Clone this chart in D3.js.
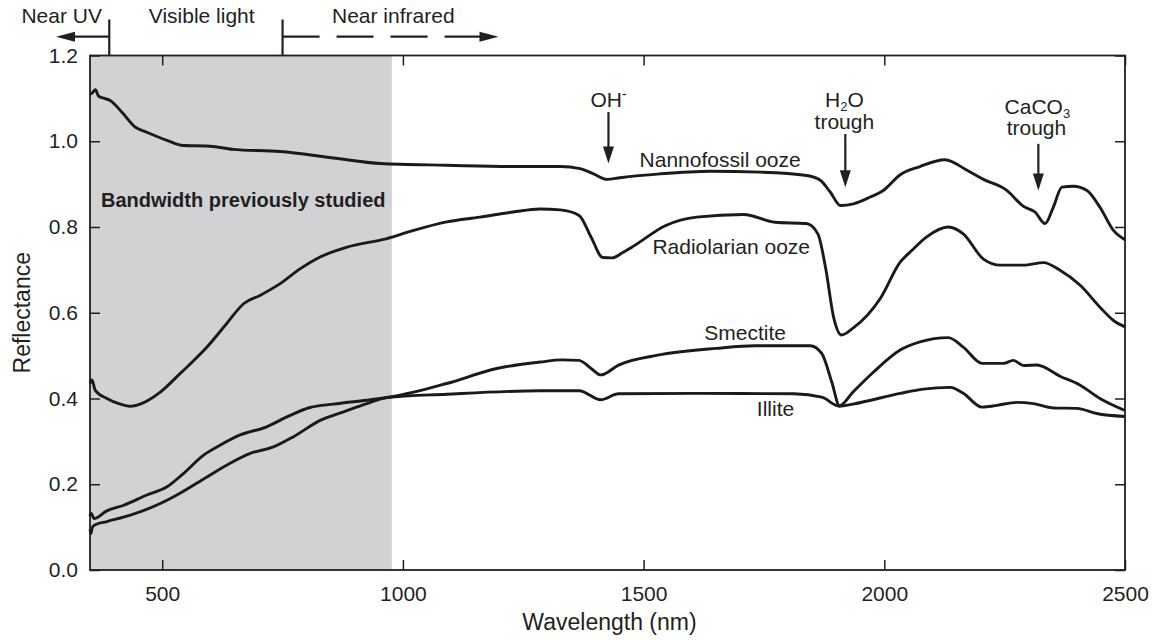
<!DOCTYPE html>
<html>
<head>
<meta charset="utf-8">
<script src="https://cdn.jsdelivr.net/npm/d3@7"></script>
<style>
  html, body { margin: 0; padding: 0; background: #fff; }
  svg { display: block; }
  text { font-family: "Liberation Sans", Arial, Helvetica, sans-serif; fill: #231f20; }
</style>
</head>
<body>
<svg id="chart" width="1152" height="640"></svg>
<script>
// Reflectance spectra of deep-sea sediments (wavelength in nm, reflectance 0-1.2)
const wlNanno = [350, 355, 361, 368, 380, 392, 416, 444, 468, 510, 544, 593, 647, 745, 855, 954, 1091, 1229, 1327, 1368, 1396, 1424, 1451, 1534, 1638, 1742, 1839, 1867, 1888, 1909, 1936, 1971, 1998, 2033, 2074, 2126, 2171, 2206, 2255, 2289, 2313, 2334, 2351, 2369, 2393, 2421, 2448, 2476, 2500];
const refNanno = [1.11, 1.113, 1.12, 1.105, 1.10, 1.095, 1.068, 1.033, 1.021, 1.002, 0.99, 0.989, 0.981, 0.976, 0.961, 0.948, 0.944, 0.941, 0.941, 0.936, 0.924, 0.911, 0.915, 0.924, 0.930, 0.928, 0.920, 0.909, 0.881, 0.850, 0.854, 0.870, 0.885, 0.922, 0.941, 0.957, 0.933, 0.911, 0.885, 0.848, 0.835, 0.808, 0.846, 0.893, 0.895, 0.885, 0.846, 0.792, 0.770];

const wlRadio = [350, 354, 361, 385, 410, 434, 454, 496, 537, 593, 634, 669, 704, 745, 787, 828, 884, 967, 1022, 1091, 1160, 1229, 1285, 1327, 1366, 1391, 1415, 1435, 1456, 1480, 1545, 1610, 1708, 1773, 1838, 1862, 1878, 1895, 1911, 1935, 1992, 2033, 2057, 2088, 2133, 2164, 2206, 2241, 2289, 2331, 2365, 2407, 2448, 2476, 2500];
const refRadio = [0.435, 0.443, 0.419, 0.40, 0.388, 0.382, 0.387, 0.415, 0.458, 0.52, 0.575, 0.621, 0.641, 0.668, 0.703, 0.730, 0.753, 0.773, 0.792, 0.812, 0.823, 0.835, 0.842, 0.840, 0.827, 0.776, 0.729, 0.728, 0.740, 0.756, 0.803, 0.823, 0.829, 0.811, 0.808, 0.784, 0.705, 0.588, 0.548, 0.564, 0.634, 0.718, 0.745, 0.777, 0.800, 0.784, 0.725, 0.711, 0.711, 0.717, 0.699, 0.664, 0.613, 0.582, 0.567];

const wlSmec = [350, 352, 354, 358, 385, 420, 468, 510, 544, 586, 620, 662, 717, 759, 807, 856, 925, 977, 1091, 1195, 1285, 1330, 1366, 1391, 1411, 1448, 1529, 1651, 1732, 1846, 1870, 1891, 1907, 1935, 1976, 2033, 2074, 2133, 2164, 2203, 2248, 2268, 2289, 2317, 2365, 2407, 2448, 2500];
const refSmec = [0.125, 0.132, 0.13, 0.12, 0.138, 0.151, 0.175, 0.194, 0.225, 0.268, 0.291, 0.315, 0.334, 0.357, 0.379, 0.387, 0.396, 0.404, 0.435, 0.47, 0.485, 0.49, 0.489, 0.47, 0.455, 0.478, 0.501, 0.517, 0.523, 0.523, 0.505, 0.438, 0.383, 0.415, 0.46, 0.513, 0.532, 0.542, 0.520, 0.482, 0.482, 0.489, 0.477, 0.478, 0.452, 0.431, 0.40, 0.372];

const wlIllite = [350, 352, 355, 360, 385, 434, 496, 537, 593, 641, 683, 731, 773, 828, 877, 925, 967, 1091, 1285, 1366, 1411, 1448, 1610, 1813, 1870, 1907, 1935, 2033, 2081, 2137, 2164, 2203, 2234, 2275, 2310, 2351, 2400, 2441, 2500];
const refIllite = [0.095, 0.085, 0.10, 0.105, 0.113, 0.128, 0.155, 0.179, 0.217, 0.249, 0.272, 0.287, 0.311, 0.349, 0.369, 0.388, 0.402, 0.41, 0.418, 0.418, 0.397, 0.411, 0.412, 0.411, 0.403, 0.382, 0.387, 0.412, 0.422, 0.426, 0.412, 0.380, 0.384, 0.391, 0.388, 0.378, 0.377, 0.365, 0.358];

const xTicks = [500, 1000, 1500, 2000, 2500];
const yTicks = [0.0, 0.2, 0.4, 0.6, 0.8, 1.0, 1.2];
const studiedBand = [350, 977];
const regionBounds = [390, 750];   // near UV | visible | near infrared

const svg = d3.select("#chart");
const m = { left: 90, right: 1125, top: 55.5, bottom: 570 };
const x = d3.scaleLinear().domain([350, 2500]).range([m.left, m.right]);
const y = d3.scaleLinear().domain([0, 1.2]).range([m.bottom, m.top]);
const ink = "#231f20";

// shaded band
svg.append("rect")
  .attr("x", x(studiedBand[0])).attr("y", y(1.2))
  .attr("width", x(studiedBand[1]) - x(studiedBand[0]))
  .attr("height", y(0) - y(1.2))
  .attr("fill", "#d1d2d4");

svg.append("text")
  .attr("x", x(studiedBand[0]) + 11).attr("y", 206.5)
  .attr("font-size", 20).attr("font-weight", "bold")
  .text("Bandwidth previously studied");

// axes: ticks on all four sides, pointing inward
const tickLen = 10;
const axB = svg.append("g").attr("transform", `translate(0,${m.bottom})`)
  .call(d3.axisBottom(x).tickValues(xTicks).tickSizeInner(-tickLen).tickSizeOuter(0).tickPadding(16).tickFormat(d3.format("d")));
const axT = svg.append("g").attr("transform", `translate(0,${m.top})`)
  .call(d3.axisTop(x).tickValues(xTicks).tickSizeInner(-tickLen).tickSizeOuter(0).tickFormat(""));
const axL = svg.append("g").attr("transform", `translate(${m.left},0)`)
  .call(d3.axisLeft(y).tickValues(yTicks).tickSizeInner(-tickLen).tickSizeOuter(0).tickPadding(12).tickFormat(d3.format(".1f")));
const axR = svg.append("g").attr("transform", `translate(${m.right},0)`)
  .call(d3.axisRight(y).tickValues(yTicks).tickSizeInner(-tickLen).tickSizeOuter(0).tickFormat(""));
[axB, axT, axL, axR].forEach(g => {
  g.select(".domain").remove();
  g.selectAll("line").attr("stroke", ink).attr("stroke-width", 1.5);
  g.selectAll("text").attr("font-size", 21).attr("fill", ink)
    .style("font-family", '"Liberation Sans", Arial, Helvetica, sans-serif');
});

// frame
svg.append("rect")
  .attr("x", m.left).attr("y", m.top)
  .attr("width", m.right - m.left).attr("height", m.bottom - m.top)
  .attr("fill", "none").attr("stroke", ink).attr("stroke-width", 1.8);

// axis titles
svg.append("text")
  .attr("x", (m.left + m.right) / 2 + 2).attr("y", 630)
  .attr("text-anchor", "middle").attr("font-size", 23)
  .text("Wavelength (nm)");
svg.append("text")
  .attr("transform", `translate(30,${(m.top + m.bottom) / 2}) rotate(-90)`)
  .attr("text-anchor", "middle").attr("font-size", 23)
  .text("Reflectance");

// spectra
const line = d3.line().x(d => x(d[0])).y(d => y(d[1])).curve(d3.curveMonotoneX);
const series = [
  [wlNanno, refNanno],
  [wlRadio, refRadio],
  [wlSmec, refSmec],
  [wlIllite, refIllite]
];
series.forEach(([wl, r]) => {
  svg.append("path")
    .datum(wl.map((w, i) => [w, r[i]]))
    .attr("d", line)
    .attr("fill", "none")
    .attr("stroke", "#1a1a1a")
    .attr("stroke-width", 2.9)
    .attr("stroke-linejoin", "round");
});

// curve labels
const lbl = (wl, v, t) => svg.append("text")
  .attr("x", x(wl)).attr("y", y(v)).attr("text-anchor", "middle")
  .attr("font-size", 21).text(t);
lbl(1659, 0.941, "Nannofossil ooze");
lbl(1682, 0.736, "Radiolarian ooze");
lbl(1711, 0.536, "Smectite");
lbl(1774, 0.360, "Illite");

// arrow helper
function arrowHead(tipX, tipY, dx, dy, len = 17, half = 5.5) {
  const px = -dy, py = dx;
  const bx = tipX - dx * len, by = tipY - dy * len;
  svg.append("path")
    .attr("d", `M${tipX},${tipY}L${bx + px * half},${by + py * half}L${bx - px * half},${by - py * half}Z`)
    .attr("fill", ink);
}
function downArrow(wl, v0, v1) {
  const xx = x(wl);
  svg.append("line").attr("x1", xx).attr("x2", xx)
    .attr("y1", y(v0)).attr("y2", y(v1) - 10)
    .attr("stroke", ink).attr("stroke-width", 2.2);
  arrowHead(xx, y(v1), 0, 1);
}

// absorption feature annotations
const oh = svg.append("text").attr("x", x(1427)).attr("y", y(1.079))
  .attr("text-anchor", "middle").attr("font-size", 21);
oh.append("tspan").text("OH");
oh.append("tspan").attr("font-size", 14).attr("dy", -8).text("-");
downArrow(1427, 1.068, 0.948);

const h2o = svg.append("text").attr("x", x(1917)).attr("y", y(1.079))
  .attr("text-anchor", "middle").attr("font-size", 21);
h2o.append("tspan").text("H");
h2o.append("tspan").attr("font-size", 13).attr("dy", 4).text("2");
h2o.append("tspan").attr("dy", -4).text("O");
lbl(1917, 1.029, "trough");
downArrow(1919, 1.017, 0.893);

const caco = svg.append("text").attr("x", x(2318)).attr("y", y(1.064))
  .attr("text-anchor", "middle").attr("font-size", 21);
caco.append("tspan").text("CaCO");
caco.append("tspan").attr("font-size", 13).attr("dy", 4).text("3");
lbl(2316, 1.0135, "trough");
downArrow(2320, 0.994, 0.885);

// spectral region header
const yHead = 36.7;
regionBounds.forEach(w => {
  svg.append("line").attr("x1", x(w)).attr("x2", x(w))
    .attr("y1", 19.5).attr("y2", m.top)
    .attr("stroke", ink).attr("stroke-width", 2.2);
});
svg.append("line").attr("x1", x(regionBounds[0])).attr("x2", 70)
  .attr("y1", yHead).attr("y2", yHead).attr("stroke", ink).attr("stroke-width", 2.2);
arrowHead(56, yHead, -1, 0, 19, 5);
svg.append("line").attr("x1", x(regionBounds[1])).attr("x2", 482)
  .attr("y1", yHead).attr("y2", yHead).attr("stroke", ink).attr("stroke-width", 2.2)
  .attr("stroke-dasharray", "37,17");
arrowHead(498.5, yHead, 1, 0, 19, 5);

const head = (cx, t) => svg.append("text").attr("x", cx).attr("y", 23)
  .attr("text-anchor", "middle").attr("font-size", 21).text(t);
head(61.7, "Near UV");
head(201.7, "Visible light");
head(393.3, "Near infrared");
</script>
</body>
</html>
